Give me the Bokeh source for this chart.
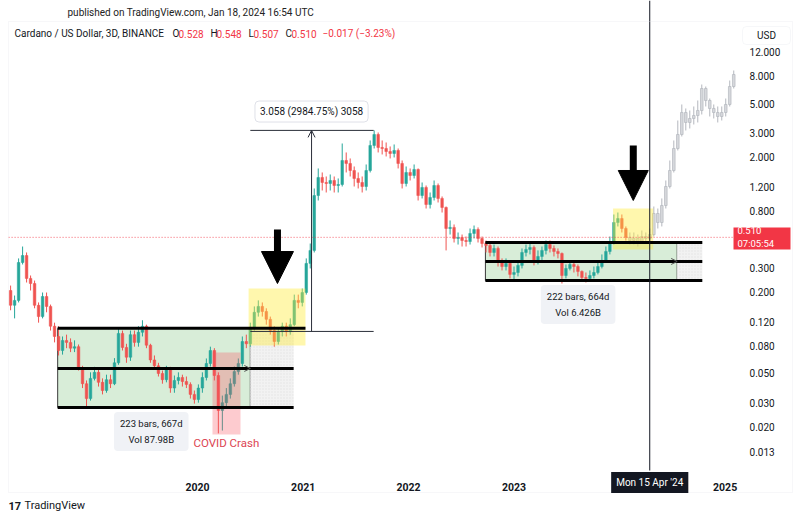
import pandas as pd
from bokeh.plotting import figure
from bokeh.models import (Range1d, FixedTicker, PrintfTickFormatter, DatetimeTickFormatter,
                          Label, Arrow, NormalHead, OpenHead, ColumnDataSource, LogAxis,
                          DatetimeAxis, BoxAnnotation)
from bokeh.embed import file_html
from bokeh.resources import INLINE

# ---------------- data ----------------
CANDLE_START = "2018-03-25"
CANDLE_STEP_HOURS = 332
OPEN0 = 0.206

CLOSE = [0.160, 0.174, 0.332, 0.374, 0.253, 0.232, 0.160, 0.132, 0.186, 0.157,
         0.112, 0.094, 0.074, 0.0878, 0.085, 0.077, 0.079, 0.055, 0.042, 0.0326,
         0.046, 0.051, 0.043, 0.0374, 0.045, 0.042, 0.060, 0.099, 0.078, 0.066,
         0.097, 0.085, 0.101, 0.112, 0.081, 0.063, 0.057, 0.050, 0.045, 0.0535,
         0.039, 0.0444, 0.0467, 0.0436, 0.0415, 0.035, 0.0321, 0.039, 0.0467, 0.0593,
         0.074, 0.0483, 0.0266, 0.0304, 0.035, 0.042, 0.0517, 0.0593, 0.0863, 0.083,
         0.110, 0.142, 0.157, 0.144, 0.126, 0.104, 0.0863, 0.102, 0.112, 0.102,
         0.115, 0.174, 0.168, 0.199, 0.327, 0.408, 1.041, 1.416, 1.300, 1.278,
         1.345, 1.235, 1.256, 1.892, 1.798, 1.595, 1.392, 1.300, 1.214, 1.595,
         2.444, 2.948, 2.362, 2.322, 2.206, 2.132, 2.244, 1.798, 1.278, 1.542,
         1.465, 1.623, 1.041, 1.194, 0.893, 1.007, 1.235, 0.990, 0.849, 0.593,
         0.604, 0.500, 0.509, 0.483, 0.475, 0.545, 0.583, 0.500, 0.459, 0.444,
         0.394, 0.422, 0.332, 0.310, 0.327, 0.271, 0.280, 0.316, 0.394, 0.415,
         0.429, 0.344, 0.368, 0.408, 0.451, 0.422, 0.401, 0.387, 0.266, 0.300,
         0.321, 0.310, 0.285, 0.257, 0.253, 0.266, 0.280, 0.310, 0.344, 0.401,
         0.467, 0.657, 0.703, 0.593, 0.510]
HIGH = [0.224, 0.189, 0.356, 0.436, 0.394, 0.266, 0.244, 0.168, 0.199, 0.199,
        0.162, 0.119, 0.112, 0.094, 0.097, 0.091, 0.088, 0.082, 0.057, 0.0444,
        0.051, 0.056, 0.054, 0.046, 0.049, 0.049, 0.065, 0.108, 0.104, 0.083,
        0.104, 0.104, 0.112, 0.124, 0.115, 0.083, 0.068, 0.060, 0.0526, 0.057,
        0.056, 0.0483, 0.051, 0.049, 0.0475, 0.043, 0.0374, 0.0415, 0.051, 0.0646,
        0.079, 0.077, 0.051, 0.0343, 0.039, 0.046, 0.0563, 0.0646, 0.094, 0.097,
        0.119, 0.157, 0.174, 0.168, 0.152, 0.132, 0.112, 0.108, 0.119, 0.119,
        0.128, 0.192, 0.192, 0.213, 0.356, 0.459, 1.174, 1.651, 1.542, 1.440,
        1.490, 1.440, 1.392, 2.528, 2.169, 1.958, 1.708, 1.542, 1.440, 1.767,
        2.661, 3.160, 3.050, 2.661, 2.572, 2.402, 2.486, 2.322, 1.892, 1.708,
        1.651, 1.767, 1.651, 1.300, 1.235, 1.096, 1.345, 1.278, 1.024, 0.863,
        0.680, 0.635, 0.554, 0.535, 0.517, 0.593, 0.624, 0.604, 0.517, 0.483,
        0.459, 0.451, 0.436, 0.356, 0.356, 0.344, 0.310, 0.344, 0.422, 0.451,
        0.467, 0.444, 0.408, 0.436, 0.483, 0.483, 0.444, 0.422, 0.394, 0.321,
        0.344, 0.344, 0.321, 0.290, 0.280, 0.290, 0.310, 0.332, 0.381, 0.436,
        0.517, 0.753, 0.779, 0.753, 0.614]
LOW = [0.147, 0.128, 0.168, 0.321, 0.236, 0.206, 0.152, 0.119, 0.128, 0.142,
       0.104, 0.085, 0.068, 0.069, 0.077, 0.072, 0.072, 0.0526, 0.039, 0.0275,
       0.0315, 0.0444, 0.040, 0.035, 0.036, 0.039, 0.041, 0.058, 0.074, 0.060,
       0.062, 0.079, 0.079, 0.094, 0.077, 0.060, 0.054, 0.0475, 0.042, 0.043,
       0.036, 0.036, 0.0415, 0.040, 0.039, 0.0326, 0.0299, 0.0304, 0.036, 0.0444,
       0.0563, 0.0444, 0.0180, 0.0189, 0.0284, 0.0326, 0.040, 0.049, 0.0563, 0.077,
       0.079, 0.104, 0.132, 0.132, 0.115, 0.097, 0.079, 0.082, 0.094, 0.094,
       0.097, 0.112, 0.152, 0.157, 0.192, 0.300, 0.394, 0.956, 1.134, 1.096,
       1.134, 1.096, 1.096, 1.214, 1.542, 1.440, 1.214, 1.174, 1.096, 1.134,
       1.542, 2.322, 2.169, 2.096, 2.026, 1.958, 1.992, 1.651, 1.174, 1.214,
       1.345, 1.392, 0.956, 0.990, 0.834, 0.834, 0.956, 0.924, 0.779, 0.408,
       0.535, 0.467, 0.451, 0.436, 0.436, 0.451, 0.500, 0.467, 0.429, 0.394,
       0.368, 0.368, 0.310, 0.290, 0.290, 0.253, 0.244, 0.262, 0.300, 0.368,
       0.381, 0.316, 0.321, 0.344, 0.381, 0.394, 0.368, 0.356, 0.232, 0.253,
       0.290, 0.280, 0.262, 0.244, 0.236, 0.244, 0.253, 0.271, 0.300, 0.332,
       0.381, 0.451, 0.614, 0.554, 0.483]

# projected (grey) bars after the last real bar
GHOST_CLOSE = [0.483, 0.500, 0.475, 0.517, 0.500, 0.535, 0.766, 0.657, 0.878, 1.214,
               1.595, 2.322, 2.948, 4.289, 3.617, 3.873, 4.075, 4.438, 6.457, 5.265,
               4.594, 4.289, 4.007, 4.289, 4.918, 6.681, 8.20]
GHOST_HIGH = [0.554, 0.554, 0.535, 0.573, 0.554, 0.593, 0.863, 0.834, 0.990, 1.345,
              1.892, 2.661, 3.742, 4.918, 4.594, 4.438, 4.753, 5.265, 6.912, 6.681,
              5.445, 4.918, 4.753, 4.753, 5.445, 7.40, 8.78]
GHOST_LOW = [0.451, 0.451, 0.436, 0.467, 0.467, 0.483, 0.517, 0.593, 0.614, 0.834,
             1.174, 1.542, 2.244, 2.849, 3.156, 3.265, 3.495, 3.617, 4.146, 4.753,
             4.007, 3.873, 3.617, 3.742, 4.007, 4.753, 6.457]

PRICE_TICKS = [0.013, 0.02, 0.03, 0.05, 0.08, 0.12, 0.2, 0.3, 0.8, 1.2, 2, 3, 5, 8, 12]
YEAR_TICKS = ["2020-01-01", "2021-01-01", "2022-01-01", "2023-01-01", "2025-01-01"]
LAST_PRICE = 0.510
CROSSHAIR_DATE = "2024-04-15"

# visible window of the chart pane (time / price) and whole-canvas extent
PANE_START, PANE_END = "2018-03-18", "2025-02-13"
PANE_PRICE_BOTTOM = 0.00989
CANVAS_START, CANVAS_END = "2018-02-18", "2025-09-19"
CANVAS_PRICE_MIN, CANVAS_PRICE_MAX = 0.004074, 28.97
CROSSHAIR_PRICE_BOTTOM = 0.00956

# drawings
BOX1_START, BOX1_END, BOX1_EXT, BOX1_TOPEXT = "2018-09-04", "2020-07-02", "2020-11-29", "2021-01-09"
BOX1_TOP, BOX1_MID, BOX1_BOT = 0.108, 0.0545, 0.028
BOX2_START, BOX2_END, BOX2_EXT = "2022-09-24", "2024-07-19", "2024-10-14"
BOX2_TOP, BOX2_MID, BOX2_BOT = 0.467, 0.338, 0.244
YEL1 = ("2020-06-26", "2021-01-09", 0.0806, 0.213)
YEL2 = ("2023-12-10", "2024-04-27", 0.415, 0.834)
COVID = ("2020-02-22", "2020-05-29", 0.01765, 0.0715)
COVID_TEXT_POS = ("2020-04-10", 0.0152)
ARROW1 = ("2020-10-04", 0.583, 0.232)
ARROW2 = ("2024-02-18", 2.444, 0.956)
MEASURE = ("2020-07-02", "2021-09-02", "2021-01-30", 0.10245, 3.1605)
MEASURE_LABEL_PRICE = 4.36
STATS1 = ("2019-07-25", 0.0186, "223 bars, 667d\nVol 87.98B")
STATS2 = ("2023-08-11", 0.162, "222 bars, 664d\nVol 6.426B")

UP, DOWN = "#26a69a", "#ef5350"
RED_TXT = "#f23645"
INK = "#131722"
FONT = "Roboto"


def ms(s):
    return pd.Timestamp(s).timestamp() * 1000.0


def T(s):
    return pd.Timestamp(s)


# ---------------- figure: plot frame spans the whole canvas ----------------
p = figure(width=800, height=520, x_axis_type=None, y_axis_type="log",
           output_backend="svg", toolbar_location=None,
           x_range=Range1d(ms(CANVAS_START), ms(CANVAS_END)),
           y_range=Range1d(CANVAS_PRICE_MIN, CANVAS_PRICE_MAX),
           min_border=0, min_border_left=0, min_border_right=0,
           min_border_top=0, min_border_bottom=0,
           background_fill_color="white", border_fill_color="white")
p.outline_line_color = None
p.grid.grid_line_color = None
for ax in list(p.yaxis):
    ax.visible = False

# price axis at the right edge of the chart pane
yax = LogAxis(fixed_location=ms(PANE_END), ticker=FixedTicker(ticks=PRICE_TICKS),
              formatter=PrintfTickFormatter(format="%.3f"))
yax.axis_line_color = None
yax.major_tick_line_color = None
yax.minor_tick_line_color = None
yax.major_label_standoff = 6
yax.major_label_text_font = FONT
yax.major_label_text_font_size = "10px"
yax.major_label_text_color = INK
p.add_layout(yax, "right")

# time axis at the bottom of the chart pane
xax = DatetimeAxis(fixed_location=PANE_PRICE_BOTTOM,
                   ticker=FixedTicker(ticks=[ms(d) for d in YEAR_TICKS]),
                   formatter=DatetimeTickFormatter(years="%Y", months="%Y", days="%Y", hours="%Y"))
xax.axis_line_color = None
xax.major_tick_line_color = None
xax.minor_tick_line_color = None
xax.major_label_standoff = 8
xax.major_label_text_font = FONT
xax.major_label_text_font_size = "10.5px"
xax.major_label_text_font_style = "bold"
xax.major_label_text_color = INK
p.add_layout(xax, "below")


def sbox(left, right, top, bottom, **kw):
    p.add_layout(BoxAnnotation(left=left, right=right, top=top, bottom=bottom,
                               left_units="screen", right_units="screen",
                               top_units="screen", bottom_units="screen", **kw))


# faint widget border
sbox(8, 792, 499, 28, fill_alpha=0, line_color="#e3e5ea", line_width=1)

# ---------------- range boxes (under candles) ----------------
p.quad(left=[T(BOX1_START), T(BOX2_START)], right=[T(BOX1_END), T(BOX2_END)],
       bottom=[BOX1_BOT, BOX2_BOT], top=[BOX1_TOP, BOX2_TOP],
       fill_color="#d8edd8", line_color="#3a3a3a", line_width=1)
p.quad(left=[T(BOX1_END), T(BOX2_END)], right=[T(BOX1_EXT), T(BOX2_EXT)],
       bottom=[BOX1_BOT, BOX2_BOT], top=[BOX1_TOP, BOX2_TOP],
       fill_color="#f2f2f2", line_color=None,
       hatch_pattern="dot", hatch_color="#e2e2e2", hatch_scale=3)

# ---------------- candles ----------------
n_real = len(CLOSE)
n_all = n_real + len(GHOST_CLOSE)
dates = pd.date_range(CANDLE_START, periods=n_all, freq=f"{CANDLE_STEP_HOURS}h")
step_ms = CANDLE_STEP_HOURS * 3600 * 1000

opens = [OPEN0] + CLOSE[:-1]
real = dict(x=list(dates[:n_real]), o=opens, c=CLOSE,
            h=[max(a, b, c) for a, b, c in zip(HIGH, opens, CLOSE)],
            l=[min(a, b, c) for a, b, c in zip(LOW, opens, CLOSE)])
real["top"] = [max(a, b) for a, b in zip(real["o"], real["c"])]
real["bot"] = [min(a, b) for a, b in zip(real["o"], real["c"])]
real["col"] = [UP if c >= o else DOWN for o, c in zip(real["o"], real["c"])]
src = ColumnDataSource(real)
p.segment(x0="x", y0="l", x1="x", y1="h", color="col", line_width=1, source=src)
p.vbar(x="x", top="top", bottom="bot", width=step_ms * 0.65, fill_color="col",
       line_color="col", line_width=0.5, source=src)

gopens = [CLOSE[-1]] + GHOST_CLOSE[:-1]
ghost = dict(x=list(dates[n_real:]), o=gopens, c=GHOST_CLOSE,
             h=[max(a, b, c) for a, b, c in zip(GHOST_HIGH, gopens, GHOST_CLOSE)],
             l=[min(a, b, c) for a, b, c in zip(GHOST_LOW, gopens, GHOST_CLOSE)])
ghost["top"] = [max(a, b) for a, b in zip(ghost["o"], ghost["c"])]
ghost["bot"] = [min(a, b) for a, b in zip(ghost["o"], ghost["c"])]
gsrc = ColumnDataSource(ghost)
p.segment(x0="x", y0="l", x1="x", y1="h", color="#b4b7be", line_width=1, source=gsrc)
p.vbar(x="x", top="top", bottom="bot", width=step_ms * 0.65, fill_color="#d6d8dc",
       line_color="#b4b7be", line_width=0.7, source=gsrc)

# ---------------- highlight boxes (over candles) ----------------
p.quad(left=[T(YEL1[0]), T(YEL2[0])], right=[T(YEL1[1]), T(YEL2[1])],
       bottom=[YEL1[2], YEL2[2]], top=[YEL1[3], YEL2[3]],
       fill_color="#ffeb3b", fill_alpha=0.42, line_color=None)
p.quad(left=[T(COVID[0])], right=[T(COVID[1])], bottom=[COVID[2]], top=[COVID[3]],
       fill_color="#f7525f", fill_alpha=0.3, line_color=None)

# thick range lines
p.segment(x0=[T(BOX1_START)] * 3 + [T(BOX2_START)] * 3,
          x1=[T(BOX1_TOPEXT), T(BOX1_EXT), T(BOX1_EXT)] + [T(BOX2_EXT)] * 3,
          y0=[BOX1_TOP, BOX1_MID, BOX1_BOT, BOX2_TOP, BOX2_MID, BOX2_BOT],
          y1=[BOX1_TOP, BOX1_MID, BOX1_BOT, BOX2_TOP, BOX2_MID, BOX2_BOT],
          line_color="black", line_width=3)
for start, end, mid in [(BOX1_START, BOX1_END, BOX1_MID), (BOX2_START, BOX2_END, BOX2_MID)]:
    p.add_layout(Arrow(x_start=ms(start), y_start=mid, x_end=ms(end), y_end=mid,
                       line_alpha=0,
                       end=OpenHead(size=6, line_width=1, line_color="#555555")))

# measure tool
p.segment(x0=[T(MEASURE[0])] * 2, x1=[T(MEASURE[1])] * 2,
          y0=[MEASURE[3], MEASURE[4]], y1=[MEASURE[3], MEASURE[4]],
          line_color="#2a2e39", line_width=1)
p.add_layout(Arrow(x_start=ms(MEASURE[2]), y_start=MEASURE[3], x_end=ms(MEASURE[2]),
                   y_end=MEASURE[4], line_color="#2a2e39", line_width=1,
                   end=OpenHead(size=7, line_width=1, line_color="#2a2e39")))
p.add_layout(Label(x=ms(MEASURE[2]), y=MEASURE_LABEL_PRICE, text="3.058 (2984.75%) 3058",
                   text_align="center", text_baseline="middle", text_font=FONT,
                   text_font_size="10px", text_color=INK, background_fill_color="white",
                   border_line_color="#dfe1e8", border_radius=4, padding=5))

# big arrows
for (d, y0, y1), sz in [(ARROW1, 32), (ARROW2, 30)]:
    p.add_layout(Arrow(x_start=ms(d), y_start=y0, x_end=ms(d), y_end=y1,
                       line_color="black", line_width=7,
                       end=NormalHead(size=sz, fill_color="black", line_color="black")))

# last price line and crosshair
p.segment(x0=[T(PANE_START)], x1=[T(PANE_END)], y0=[LAST_PRICE], y1=[LAST_PRICE],
          line_color=RED_TXT, line_dash="1 2", line_width=1, line_alpha=0.8)
p.segment(x0=[T(CROSSHAIR_DATE)], x1=[T(CROSSHAIR_DATE)],
          y0=[CROSSHAIR_PRICE_BOTTOM], y1=[CANVAS_PRICE_MAX],
          line_color=INK, line_width=1)

# stats labels
for d, y, t in [STATS1, STATS2]:
    p.add_layout(Label(x=ms(d), y=y, text=t, text_align="center", text_baseline="middle",
                       text_font=FONT, text_font_size="9.5px", text_color=INK,
                       background_fill_color="#f0f2f6", border_radius=4, padding=6,
                       text_line_height=1.45))
p.add_layout(Label(x=ms(COVID_TEXT_POS[0]), y=COVID_TEXT_POS[1], text="COVID Crash",
                   text_align="center", text_baseline="middle", text_font=FONT,
                   text_font_size="11.5px", text_color="#dc4452"))


# ---------------- header / axis badges (screen units; y from canvas bottom) ----------------
def slabel(x, y, text, color=INK, size="10px", **kw):
    p.add_layout(Label(x=x, y=y, x_units="screen", y_units="screen", text=text,
                       text_font=FONT, text_font_size=size, text_color=color,
                       text_baseline="middle", **kw))


slabel(67, 508, "published on TradingView.com, Jan 18, 2024 16:54 UTC", size="10px",
       color="#222222")
slabel(14, 487, "Cardano / US Dollar, 3D, BINANCE")
for x, t, c in [(172, "O", INK), (178, "0.528", RED_TXT), (210, "H", INK), (216, "0.548", RED_TXT),
                (248, "L", INK), (253, "0.507", RED_TXT), (285, "C", INK), (291, "0.510", RED_TXT),
                (322, "−0.017 (−3.23%)", RED_TXT)]:
    slabel(x, 487, t, color=c)

# USD badge
sbox(742, 790, 494, 476, fill_color="white", fill_alpha=1, line_color="#e0e3eb",
     line_width=1, border_radius=4)
slabel(766, 485, "USD", text_align="center")

# last-price badge on the price scale
sbox(733, 790, 293, 271, fill_color=RED_TXT, fill_alpha=1, line_color=None)
p.add_layout(Label(x=737, y=LAST_PRICE, x_units="screen", text="0.510\n07:05:54",
                   text_font=FONT, text_font_size="9.5px", text_color="white",
                   text_baseline="middle", text_line_height=1.2))

# crosshair date badge on the time scale
p.add_layout(Label(x=ms(CROSSHAIR_DATE), y=38, y_units="screen", text="Mon 15 Apr '24",
                   text_align="center", text_baseline="middle", text_font=FONT,
                   text_font_size="10px", text_color="white",
                   background_fill_color=INK, padding=5))
slabel(8, 15, "17", size="11px", text_font_style="bold")
slabel(24, 15, "TradingView", size="11px")

open("out.html", "w").write(file_html(p, INLINE))
